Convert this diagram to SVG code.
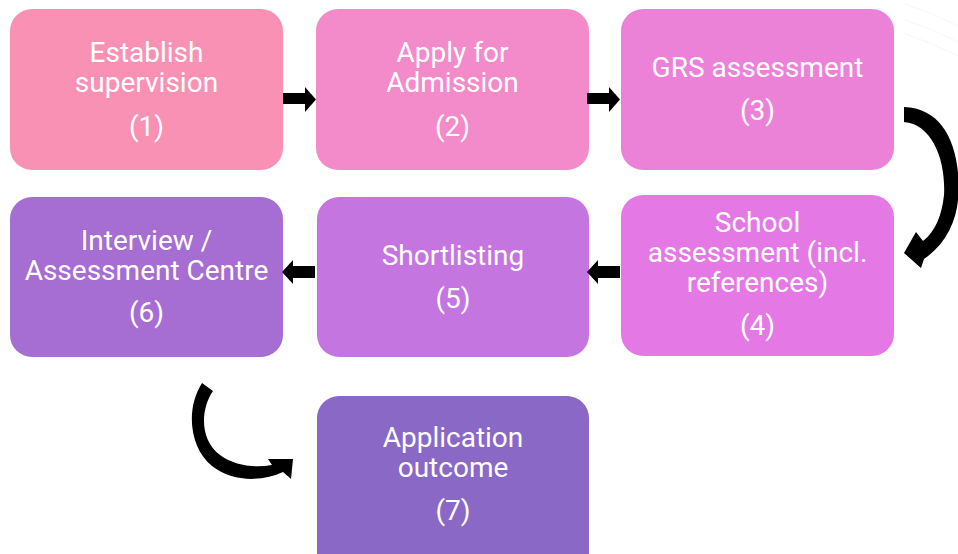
<svg xmlns="http://www.w3.org/2000/svg" width="958" height="554" viewBox="0 0 958 554">
<style>
.t{font-family:Roboto,"Liberation Sans",sans-serif;font-size:28px;fill:#fff;text-anchor:middle}
.a{fill:#000}
</style>
<rect width="958" height="554" fill="#fff"/>
<g id="decor" fill="none" stroke="#f0f0f0" stroke-width="1" opacity="0.5">
<path d="M905 4 Q932 12 958 26"/>
<path d="M905 20 Q932 28 958 42"/>
<path d="M905 34 Q932 42 958 56"/>
</g>
<g id="n1"><rect x="10" y="9" width="273" height="161" rx="22" fill="#F891B4"/>
<text class="t" x="146.5" y="62">Establish</text><text class="t" x="146.5" y="92">supervision</text><text class="t" x="146.5" y="136">(1)</text></g>
<g id="n2"><rect x="316" y="9" width="273" height="161" rx="22" fill="#F38ACA"/>
<text class="t" x="452.5" y="62">Apply for</text><text class="t" x="452.5" y="92">Admission</text><text class="t" x="452.5" y="136">(2)</text></g>
<g id="n3"><rect x="621" y="9" width="273" height="161" rx="22" fill="#EC82D8"/>
<text class="t" x="757.5" y="77">GRS assessment</text><text class="t" x="757.5" y="120">(3)</text></g>
<g id="n4"><rect x="621" y="195" width="273" height="161" rx="22" fill="#E479E5"/>
<text class="t" x="757.5" y="232">School</text><text class="t" x="757.5" y="262">assessment (incl.</text><text class="t" x="757.5" y="292">references)</text><text class="t" x="757.5" y="335">(4)</text></g>
<g id="n5"><rect x="317" y="197" width="272" height="160" rx="22" fill="#C575E0"/>
<text class="t" x="453" y="265">Shortlisting</text><text class="t" x="453" y="308">(5)</text></g>
<g id="n6"><rect x="10" y="197" width="273" height="160" rx="22" fill="#A66DD2"/>
<text class="t" x="146.5" y="250">Interview /</text><text class="t" x="146.5" y="280">Assessment Centre</text><text class="t" x="146.5" y="322">(6)</text></g>
<g id="n7"><rect x="317" y="396" width="272" height="180" rx="22" fill="#8A68C6"/>
<text class="t" x="453" y="447">Application</text><text class="t" x="453" y="477">outcome</text><text class="t" x="453" y="520">(7)</text></g>
<g id="connectors">
<path class="a" d="M283 93 H305 V87 L316 99.5 L305 112 V104 H283 Z"/>
<path class="a" d="M587 93 H609 V87 L620 99.5 L609 112 V104 H587 Z"/>
<path class="a" d="M620 266 H598 V260 L587 272 L598 284 V278 H620 Z"/>
<path class="a" d="M315 266 H293 V260 L282 272 L293 284 V278 H315 Z"/>
<path class="a" d="M904 107 C945 108 962 150 958 200 C956 222 945 245 924 259 L921 268 L904 253 L916 232 L923 241 C935 232 942 215 944 195 C946 160 932 124 904 122 Z"/>
<path class="a" d="M202 383 L213 391 C200 410 200 440 220 455 C235 466 255 468 272 465 L268 459 L293 459 L291 479 L283 472 C262 482 232 482 212 466 C190 448 185 410 202 383 Z"/>
</g>
</svg>
